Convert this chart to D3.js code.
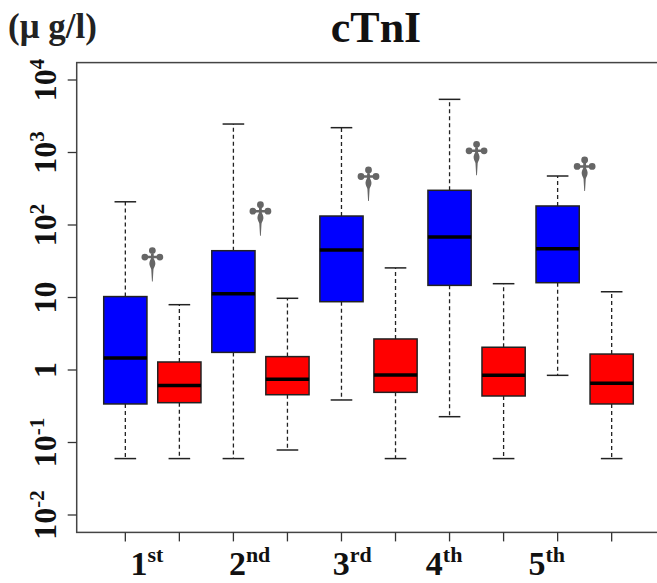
<!DOCTYPE html>
<html>
<head>
<meta charset="utf-8">
<script src="https://cdn.jsdelivr.net/npm/d3@7"></script>
<style>
  html, body { margin: 0; padding: 0; background: #fff; }
  svg { display: block; }
  text { font-family: "Liberation Serif", "Times New Roman", serif; font-weight: bold; }
</style>
</head>
<body>
<div id="chart"></div>
<script>
// cTnI boxplots per quintile, log scale

const groups = ["1", "2", "3", "4", "5"];
const suffixes = ["st", "nd", "rd", "th", "th"];
const labelPos = [1.4, 3.3, 5.2, 6.9, 8.8];

// [lower whisker, Q1, median, Q3, upper whisker]
const blueStats = [
  [0.06, 0.34, 1.46, 10.3, 209],
  [0.06, 1.75, 11.3, 44.2, 2470],
  [0.386, 8.75, 45.2, 133, 2200],
  [0.227, 14.7, 68.3, 301, 5410],
  [0.844, 16.0, 47.2, 183, 474]
];
const redStats = [
  [0.06, 0.354, 0.61, 1.29, 7.96],
  [0.0788, 0.456, 0.743, 1.53, 9.75],
  [0.06, 0.492, 0.853, 2.68, 25.6],
  [0.06, 0.438, 0.844, 2.06, 15.5],
  [0.06, 0.34, 0.655, 1.66, 12.0]
];
const dagger = [true, true, true, true, true];

const yTicks = [1e-2, 1e-1, 1, 10, 1e2, 1e3, 1e4];
const yBase = ["10", "10", "1", "10", "10", "10", "10"];
const yExp = ["-2", "-1", "", "", "2", "3", "4"];

const width = 657, height = 583;

const svg = d3.select("#chart").append("svg")
  .attr("width", width)
  .attr("height", height);

const x = d3.scaleLinear().domain([0.1, 10.9]).range([76.7, 660.3]);
const y = d3.scaleLog().domain([1e-2, 1e4]).range([515, 80]);

// plot region (R style 4% extension on log range)
const yTop = y(Math.pow(10, 4.24));
const yBot = y(Math.pow(10, -2.24));

const boxW = x(1.8) - x(1);   // boxwex 0.8
const capW = boxW / 2;

// rows for drawing
const boxes = [];
groups.forEach((g, i) => {
  boxes.push({ pos: 2 * i + 1, s: blueStats[i], fill: "#0000ff" });
  boxes.push({ pos: 2 * i + 2, s: redStats[i], fill: "#ff0000" });
});

const gBox = svg.append("g");

const b = gBox.selectAll("g.box")
  .data(boxes)
  .enter().append("g")
  .attr("class", "box");

// whiskers
b.append("line")
  .attr("x1", d => x(d.pos)).attr("x2", d => x(d.pos))
  .attr("y1", d => y(d.s[3])).attr("y2", d => y(d.s[4]))
  .attr("stroke", "#222").attr("stroke-width", 1.3)
  .attr("stroke-dasharray", "4,3");
b.append("line")
  .attr("x1", d => x(d.pos)).attr("x2", d => x(d.pos))
  .attr("y1", d => y(d.s[1])).attr("y2", d => y(d.s[0]))
  .attr("stroke", "#222").attr("stroke-width", 1.3)
  .attr("stroke-dasharray", "4,3");

// caps
[0, 4].forEach(k => {
  b.append("line")
    .attr("x1", d => x(d.pos) - capW / 2).attr("x2", d => x(d.pos) + capW / 2)
    .attr("y1", d => y(d.s[k])).attr("y2", d => y(d.s[k]))
    .attr("stroke", "#222").attr("stroke-width", 1.5);
});

// box
b.append("rect")
  .attr("x", d => x(d.pos) - boxW / 2)
  .attr("width", boxW)
  .attr("y", d => y(d.s[3]))
  .attr("height", d => y(d.s[1]) - y(d.s[3]))
  .attr("fill", d => d.fill)
  .attr("stroke", "#222")
  .attr("stroke-width", 1.5);

// median
b.append("line")
  .attr("x1", d => x(d.pos) - boxW / 2).attr("x2", d => x(d.pos) + boxW / 2)
  .attr("y1", d => y(d.s[2])).attr("y2", d => y(d.s[2]))
  .attr("stroke", "#000").attr("stroke-width", 3.5);

// dagger marks (tip at 0,0)
function daggerPath() {
  const p = d3.path();
  const circ = (cx, cy, r) => { p.moveTo(cx + r, cy); p.arc(cx, cy, r, 0, 2 * Math.PI); };
  circ(0, -31, 3.4);
  circ(-7.5, -24.5, 3.4);
  circ(7.5, -24.5, 3.4);
  p.moveTo(-7.5, -25.8); p.lineTo(7.5, -25.8); p.lineTo(7.5, -23.2); p.lineTo(-7.5, -23.2); p.closePath();
  p.moveTo(-1.4, -31); p.lineTo(1.4, -31); p.lineTo(1.4, -23); p.lineTo(-1.4, -23); p.closePath();
  p.moveTo(0, -25);
  p.bezierCurveTo(2.4, -22, 3.3, -19, 2.9, -17);
  p.bezierCurveTo(2.5, -15, 1.4, -13.5, 1.1, -12);
  p.lineTo(0.4, 0);
  p.lineTo(-0.4, 0);
  p.lineTo(-1.1, -12);
  p.bezierCurveTo(-1.4, -13.5, -2.5, -15, -2.9, -17);
  p.bezierCurveTo(-3.3, -19, -2.4, -22, 0, -25);
  p.closePath();
  return p.toString();
}

svg.append("g").selectAll("path")
  .data(groups.map((g, i) => ({ i, show: dagger[i] })).filter(d => d.show))
  .enter().append("path")
  .attr("d", daggerPath())
  .attr("fill", "#666")
  .attr("transform", d => `translate(${x(2 * d.i + 1.5)},${y(blueStats[d.i][3]) - 15})`);

// frame
svg.append("rect")
  .attr("x", x.range()[0])
  .attr("y", yTop)
  .attr("width", x.range()[1] - x.range()[0])
  .attr("height", yBot - yTop)
  .attr("fill", "none")
  .attr("stroke", "#444")
  .attr("stroke-width", 1.5);

// y axis ticks
svg.append("g").selectAll("line")
  .data(yTicks)
  .enter().append("line")
  .attr("x1", x.range()[0] - 9).attr("x2", x.range()[0])
  .attr("y1", d => y(d)).attr("y2", d => y(d))
  .attr("stroke", "#333").attr("stroke-width", 1.3);

const yl = svg.append("g").selectAll("text")
  .data(yTicks)
  .enter().append("text")
  .attr("text-anchor", "middle")
  .attr("font-size", 32)
  .attr("fill", "#111")
  .attr("transform", d => `translate(56,${y(d)}) rotate(-90)`);
yl.append("tspan").text((d, i) => yBase[i]);
yl.append("tspan")
  .attr("font-size", 21)
  .attr("dy", -12)
  .text((d, i) => yExp[i]);

// x axis ticks
svg.append("g").selectAll("line")
  .data(d3.range(1, 11))
  .enter().append("line")
  .attr("x1", d => x(d)).attr("x2", d => x(d))
  .attr("y1", yBot).attr("y2", yBot + 9)
  .attr("stroke", "#333").attr("stroke-width", 1.3);

const xl = svg.append("g").selectAll("text")
  .data(groups)
  .enter().append("text")
  .attr("text-anchor", "middle")
  .attr("x", (d, i) => x(labelPos[i]))
  .attr("y", 575)
  .attr("font-size", 34)
  .attr("fill", "#111");
xl.append("tspan").text(d => d);
xl.append("tspan")
  .attr("font-size", 22)
  .attr("dy", -13)
  .text((d, i) => suffixes[i]);

// title and unit
svg.append("text")
  .attr("x", 376).attr("y", 42)
  .attr("text-anchor", "middle")
  .attr("font-size", 44)
  .attr("fill", "#111")
  .text("cTnI");

svg.append("text")
  .attr("x", 8).attr("y", 38)
  .attr("font-size", 35)
  .attr("fill", "#222")
  .text("(μ g/l)");
</script>
</body>
</html>
